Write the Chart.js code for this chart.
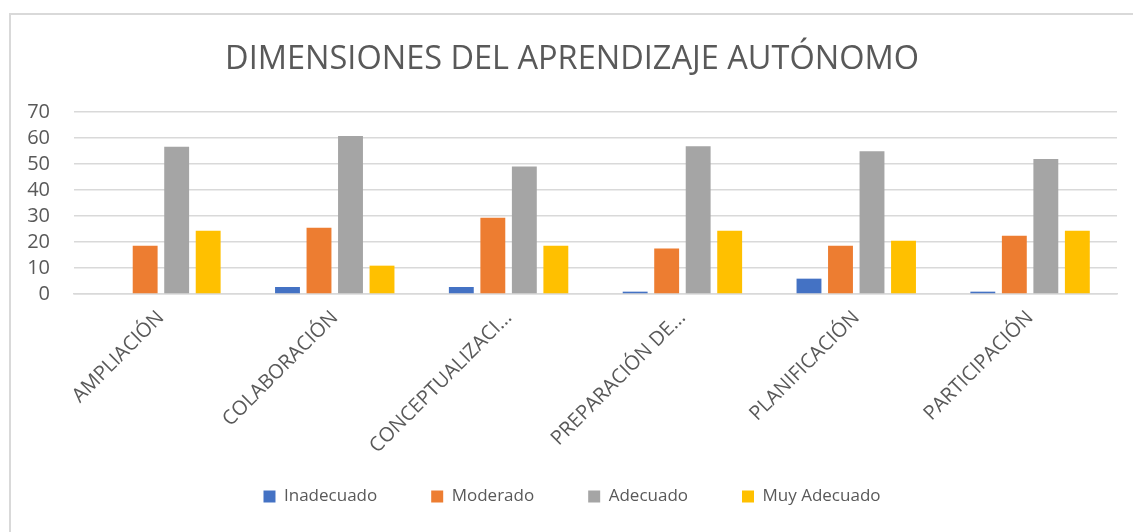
<!DOCTYPE html>
<html>
<head>
<meta charset="utf-8">
<script src="https://cdn.jsdelivr.net/npm/chart.js@4/dist/chart.umd.min.js"></script>
<style>
  html, body { margin: 0; padding: 0; background: #ffffff; overflow: hidden; }
  #frame { position: absolute; left: 9px; top: 13px; width: 1300px; height: 700px; border: 2px solid #d9d9d9; box-sizing: border-box; }
  #c { position: absolute; left: 0; top: 0; }
</style>
</head>
<body>
<div id="frame"></div>
<canvas id="c" width="1133" height="532"></canvas>
<script>
const categories = ['AMPLIACIÓN', 'COLABORACIÓN', 'CONCEPTUALIZACI...', 'PREPARACIÓN DE...', 'PLANIFICACIÓN', 'PARTICIPACIÓN'];
const seriesNames = ['Inadecuado', 'Moderado', 'Adecuado', 'Muy Adecuado'];
const inadecuado = [0, 2.7, 2.7, 0.9, 5.9, 0.9];
const moderado = [18.6, 25.5, 29.3, 17.5, 18.6, 22.4];
const adecuado = [56.6, 60.8, 49.0, 56.8, 54.9, 51.9];
const muyAdecuado = [24.3, 10.9, 18.6, 24.3, 20.5, 24.3];
const yTicks = [0, 10, 20, 30, 40, 50, 60, 70];
const titleText = 'DIMENSIONES DEL APRENDIZAJE AUTÓNOMO';

const colors = ['#4472C4', '#ED7D31', '#A5A5A5', '#FFC000'];
const values = [inadecuado, moderado, adecuado, muyAdecuado];

const LEGEND_PAD = 54;
const LEGEND_ITEM_TOP = 488;

const legendShift = {
  id: 'legendShift',
  afterLayout(chart) {
    if (chart.legend) {
      chart.legend.top = LEGEND_ITEM_TOP - LEGEND_PAD;
    }
  }
};

new Chart(document.getElementById('c'), {
  type: 'bar',
  data: {
    labels: categories,
    datasets: seriesNames.map((name, i) => ({
      label: name,
      data: values[i],
      backgroundColor: colors[i],
      borderWidth: 0,
      categoryPercentage: 0.725,
      barPercentage: 0.79
    }))
  },
  options: {
    responsive: false,
    animation: false,
    layout: { padding: { left: 27, right: 16, top: 0, bottom: 0 } },
    plugins: {
      title: {
        display: true,
        text: titleText,
        color: '#595959',
        font: { family: 'Open Sans', size: 32.5, weight: 'normal' },
        padding: { top: 40, bottom: 33 }
      },
      legend: {
        display: true,
        position: 'bottom',
        maxHeight: 50,
        labels: {
          color: '#595959',
          font: { family: 'Open Sans', size: 17 },
          boxWidth: 12,
          boxHeight: 12,
          padding: LEGEND_PAD
        }
      },
      tooltip: { enabled: false }
    },
    scales: {
      x: {
        grid: { display: false, drawTicks: false },
        border: { display: true, color: '#d9d9d9', width: 1.5 },
        ticks: {
          color: '#595959',
          font: { family: 'Open Sans', size: 20 },
          minRotation: 45,
          maxRotation: 45,
          autoSkip: false,
          padding: 12
        },
        afterFit(scale) {
          scale.height = 188;
          scale.paddingLeft = 0;
          scale.paddingRight = 0;
          if (scale._margins) { scale._margins.left = 0; scale._margins.right = 0; }
        }
      },
      y: {
        min: 0,
        max: 70,
        afterBuildTicks(scale) { scale.ticks = yTicks.map(v => ({ value: v })); },
        afterFit(scale) { scale.width = 47; },
        grid: { color: '#d9d9d9', lineWidth: 1.5, drawTicks: false },
        border: { display: false },
        ticks: {
          color: '#595959',
          font: { family: 'Open Sans', size: 20 },
          padding: 24,
          autoSkip: false
        }
      }
    }
  },
  plugins: [legendShift]
});
</script>
</body>
</html>
